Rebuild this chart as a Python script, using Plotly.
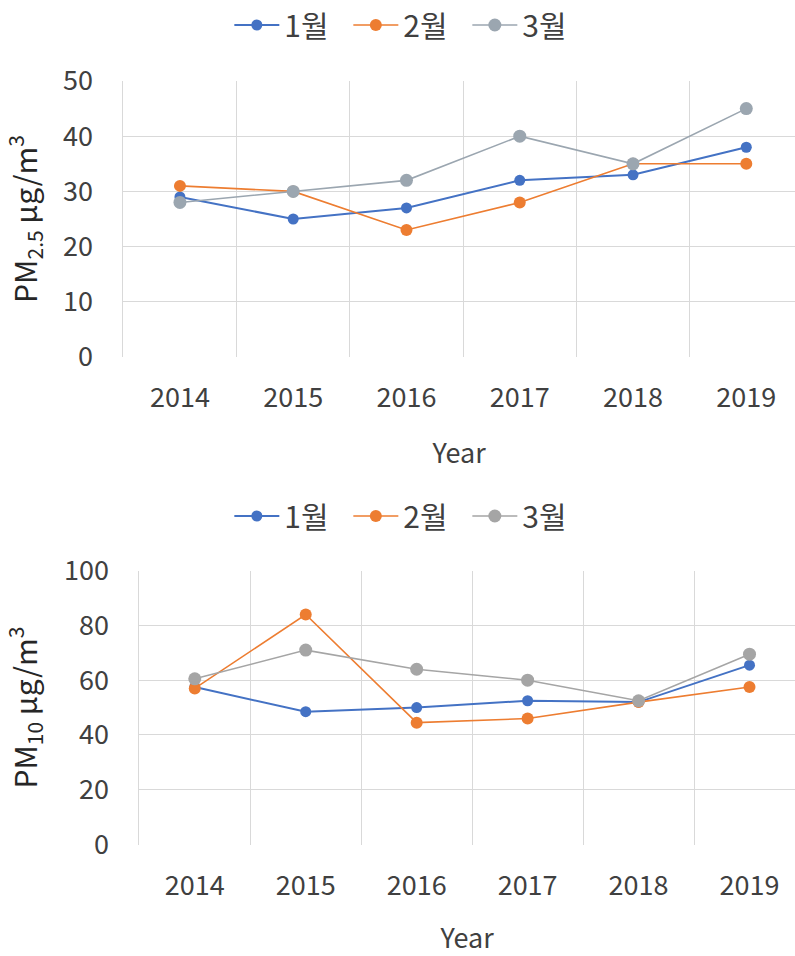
import plotly.graph_objects as go

# Monthly (Jan-Mar) mean concentrations by year
years = ["2014", "2015", "2016", "2017", "2018", "2019"]
months = ["1월", "2월", "3월"]

pm25_jan = [29, 25, 27, 32, 33, 38]
pm25_feb = [31, 30, 23, 28, 35, 35]
pm25_mar = [28, 30, 32, 40, 35, 45]

pm10_jan = [57.5, 48.5, 50, 52.5, 52, 65.5]
pm10_feb = [57, 84, 44.5, 46, 52, 57.5]
pm10_mar = [60.5, 71, 64, 60, 52.5, 69.5]

pm25_ticks = [0, 10, 20, 30, 40, 50]
pm10_ticks = [0, 20, 40, 60, 80, 100]

W, H = 795, 956
FONT = "Noto Sans CJK KR, Noto Sans, sans-serif"
GRID = "#d9d9d9"
TXT = "#404040"

top_colors = ["#4472C4", "#ED7D31", "#9BA6B0"]
bot_colors = ["#4472C4", "#ED7D31", "#A5A5A5"]
marker_sizes = [11, 12, 13]
line_widths = [2, 1.6, 1.6]

fig = go.Figure()

for name, vals, col, ms, lw in zip(months, [pm25_jan, pm25_feb, pm25_mar],
                                   top_colors, marker_sizes, line_widths):
    fig.add_trace(go.Scatter(
        x=years, y=vals, name=name, mode="lines+markers",
        line=dict(color=col, width=lw),
        marker=dict(color=col, size=ms, symbol="circle"),
        xaxis="x", yaxis="y", legend="legend",
    ))

for name, vals, col, ms, lw in zip(months, [pm10_jan, pm10_feb, pm10_mar],
                                   bot_colors, marker_sizes, line_widths):
    fig.add_trace(go.Scatter(
        x=years, y=vals, name=name, mode="lines+markers",
        line=dict(color=col, width=lw),
        marker=dict(color=col, size=ms, symbol="circle"),
        xaxis="x2", yaxis="y2", legend="legend2",
    ))


def py(px):
    return (H - px) / H


xcommon = dict(
    type="category", tickson="boundaries", showgrid=True, gridcolor=GRID,
    gridwidth=1, ticks="", showline=False, zeroline=False,
    tickfont=dict(family=FONT, size=27, color=TXT),
    ticklabelstandoff=22,
    title=dict(text="Year", font=dict(family=FONT, size=27, color=TXT), standoff=30),
    fixedrange=True,
)
ycommon = dict(
    showgrid=True, gridcolor=GRID, gridwidth=1, zeroline=False,
    showline=True, linecolor=GRID, linewidth=1,
    ticks="", tickfont=dict(family=FONT, size=27, color=TXT),
    ticklabelstandoff=24, fixedrange=True,
)
ytitle_font = dict(family=FONT, size=30, color="#262626")
legend_common = dict(
    orientation="h", xanchor="center", yanchor="middle",
    font=dict(family=FONT, size=30, color=TXT),
    entrywidth=59, itemwidth=45, bgcolor="rgba(0,0,0,0)",
)

fig.update_layout(
    width=W, height=H,
    margin=dict(l=0, r=0, t=0, b=0, autoexpand=False),
    paper_bgcolor="white", plot_bgcolor="white",
    font=dict(family=FONT, color=TXT),
    xaxis=dict(xcommon, domain=[123.3 / W, 1], range=[-0.5, 5.43], anchor="y"),
    yaxis=dict(ycommon, domain=[py(357), py(81)], range=[0, 50],
               tickvals=pm25_ticks, anchor="x",
               title=dict(text="PM<sub>2.5</sub> μg/m<sup>3</sup>",
                          font=ytitle_font, standoff=22)),
    xaxis2=dict(xcommon, domain=[139.3 / W, 1], range=[-0.5, 5.41], anchor="y2"),
    yaxis2=dict(ycommon, domain=[py(844.5), py(570.7)], range=[0, 100],
                tickvals=pm10_ticks, anchor="x2",
                title=dict(text="PM<sub>10</sub> μg/m<sup>3</sup>",
                           font=ytitle_font, standoff=22)),
    legend=dict(legend_common, x=0.513, y=py(25)),
    legend2=dict(legend_common, x=0.513, y=py(516)),
    showlegend=True,
)

fig.write_html("out.html", config=dict(displayModeBar=False))
